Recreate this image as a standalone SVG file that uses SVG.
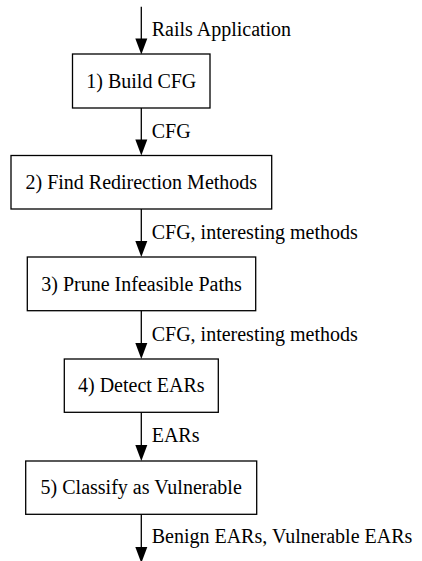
<svg xmlns="http://www.w3.org/2000/svg" width="422" height="561" viewBox="0 0 422 561">
<style>
.box{fill:#fff;stroke:#000;stroke-width:1.3}
.edge{fill:none;stroke:#000;stroke-width:1.3}
text{font-size:20px;fill:#000}
.c{text-anchor:middle}
</style>
<g id="connectors">
<path class="edge" d="M141.3,6.7 V40"/><path d="M135.3,38.5 H147.3 L141.3,54.5 Z"/>
<path class="edge" d="M141.3,108 V141"/><path d="M135.3,139.5 H147.3 L141.3,155.5 Z"/>
<path class="edge" d="M141.3,209 V242"/><path d="M135.3,241 H147.3 L141.3,257 Z"/>
<path class="edge" d="M141.3,310.7 V344"/><path d="M135.3,343 H147.3 L141.3,359 Z"/>
<path class="edge" d="M141.3,412.3 V446"/><path d="M135.3,445 H147.3 L141.3,461 Z"/>
<path class="edge" d="M141.3,514.3 V548"/><path d="M135.3,547 H147.3 L141.3,563 Z"/>
<text font-family="Liberation Serif, serif" x="151.7" y="35.5">Rails Application</text>
<text font-family="Liberation Serif, serif" x="151.7" y="138.3">CFG</text>
<text font-family="Liberation Serif, serif" x="151.7" y="239">CFG, interesting methods</text>
<text font-family="Liberation Serif, serif" x="151.7" y="340.7">CFG, interesting methods</text>
<text font-family="Liberation Serif, serif" x="151.7" y="441.7">EARs</text>
<text font-family="Liberation Serif, serif" x="151.7" y="543.3">Benign EARs, Vulnerable EARs</text>
</g>
<g id="n1"><rect class="box" x="72.5" y="54" width="137.5" height="54"/><text class="c" font-family="Liberation Serif, serif" x="141.3" y="87.5">1) Build CFG</text></g>
<g id="n2"><rect class="box" x="11" y="155.5" width="260.7" height="53.5"/><text class="c" font-family="Liberation Serif, serif" x="141.3" y="189">2) Find Redirection Methods</text></g>
<g id="n3"><rect class="box" x="27.3" y="257" width="228.4" height="53.7"/><text class="c" font-family="Liberation Serif, serif" x="141.5" y="290.5">3) Prune Infeasible Paths</text></g>
<g id="n4"><rect class="box" x="64.3" y="359" width="154" height="53.3"/><text class="c" font-family="Liberation Serif, serif" x="141.3" y="392.2">4) Detect EARs</text></g>
<g id="n5"><rect class="box" x="25.7" y="461" width="231" height="53.3"/><text class="c" font-family="Liberation Serif, serif" x="141.2" y="494">5) Classify as Vulnerable</text></g>
</svg>
